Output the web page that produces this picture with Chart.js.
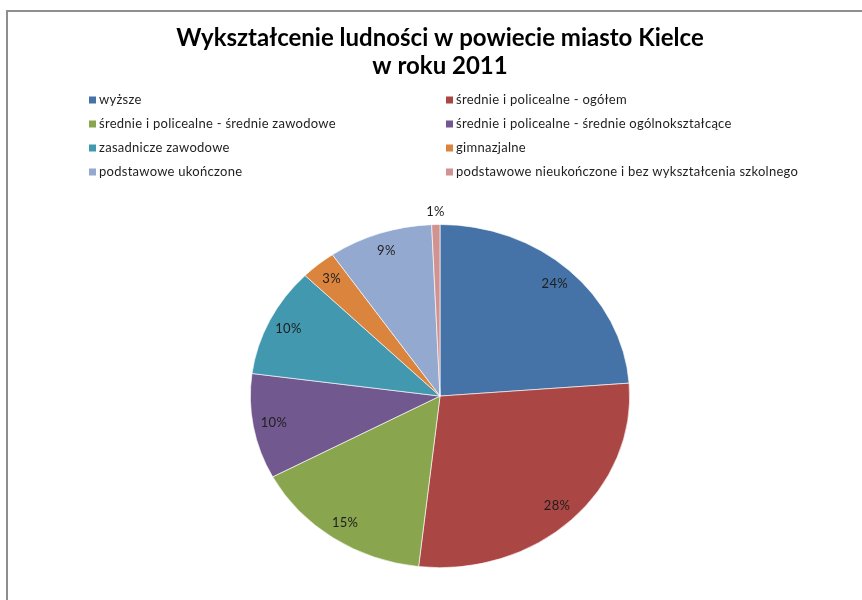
<!DOCTYPE html>
<html>
<head>
<meta charset="utf-8">
<script src="https://cdn.jsdelivr.net/npm/chart.js@4/dist/chart.umd.min.js"></script>
<style>
  html, body { margin: 0; padding: 0; background: #ffffff; }
  #wrap { width: 862px; height: 600px; position: relative; }
</style>
</head>
<body>
<div id="wrap"><canvas id="c" width="862" height="600"></canvas></div>
<script>
const titleLines = ["Wykształcenie ludności w powiecie miasto Kielce", "w roku 2011"];
const categories = [
  "wyższe",
  "średnie i policealne - ogółem",
  "średnie i policealne - średnie zawodowe",
  "średnie i policealne - średnie ogólnokształcące",
  "zasadnicze zawodowe",
  "gimnazjalne",
  "podstawowe ukończone",
  "podstawowe nieukończone i bez wykształcenia szkolnego"
];
const shares = [23.8, 28.0, 15.4, 9.9, 10.3, 3.0, 8.9, 0.7];
const colors = ["#4572A7", "#AA4643", "#89A54E", "#71588F", "#4198AF", "#DB843D", "#93A9CF", "#D19392"];

const SX = 1.105; // horizontal stretch of the pie (elliptical look)

const framePlugin = {
  id: 'frame',
  beforeDraw(chart) {
    const ctx = chart.ctx;
    ctx.save();
    ctx.fillStyle = '#ffffff';
    ctx.fillRect(0, 0, chart.width, chart.height);
    ctx.strokeStyle = '#8e8e8e';
    ctx.lineWidth = 2;
    ctx.beginPath();
    ctx.moveTo(7, chart.height + 5);
    ctx.lineTo(7, 11);
    ctx.lineTo(chart.width + 5, 11);
    ctx.stroke();
    ctx.restore();
  }
};

const stretchPlugin = {
  id: 'stretch',
  beforeDatasetsDraw(chart) {
    const meta = chart.getDatasetMeta(0);
    const a = meta.data[0];
    const ctx = chart.ctx;
    ctx.save();
    ctx.translate(a.x, a.y);
    ctx.scale(SX, 1);
    ctx.translate(-a.x, -a.y);
  },
  afterDatasetsDraw(chart) {
    chart.ctx.restore();
  }
};

const labelPlugin = {
  id: 'pctLabels',
  afterDatasetsDraw(chart) {
    const ctx = chart.ctx;
    const meta = chart.getDatasetMeta(0);
    const data = chart.data.datasets[0].data;
    const total = data.reduce((s, v) => s + v, 0);
    ctx.save();
    ctx.font = '13px Lato, "Open Sans", sans-serif';
    ctx.letterSpacing = '0.3px';
    ctx.fillStyle = '#1e1e1e';
    ctx.textAlign = 'center';
    ctx.textBaseline = 'middle';
    meta.data.forEach((arc, i) => {
      const p = arc.getProps(['x', 'y', 'startAngle', 'endAngle', 'outerRadius'], true);
      const mid = (p.startAngle + p.endAngle) / 2;
      const pct = data[i] / total * 100;
      const f = pct < 2 ? 1.075 : 0.89;
      const x = p.x + Math.cos(mid) * p.outerRadius * f * SX;
      const y = p.y + Math.sin(mid) * p.outerRadius * f;
      ctx.fillText(Math.round(pct) + '%', x, y);
    });
    ctx.restore();
  }
};

const legendPlugin = {
  id: 'gridLegend',
  afterDraw(chart) {
    const ctx = chart.ctx;
    const labels = chart.data.labels;
    const bg = chart.data.datasets[0].backgroundColor;
    const colX = [89, 446];
    const rowY0 = 100, rowStep = 24;
    ctx.save();
    ctx.font = '13px Lato, "Open Sans", sans-serif';
    ctx.letterSpacing = '0.27px';
    ctx.textBaseline = 'middle';
    ctx.textAlign = 'left';
    labels.forEach((lab, i) => {
      const col = i % 2, row = Math.floor(i / 2);
      const x = colX[col], y = rowY0 + row * rowStep;
      ctx.fillStyle = bg[i];
      ctx.fillRect(x, y - 3.5, 7, 7);
      ctx.fillStyle = '#1e1e1e';
      ctx.fillText(lab, x + 10, y);
    });
    ctx.restore();
  }
};

new Chart(document.getElementById('c'), {
  type: 'pie',
  data: {
    labels: categories,
    datasets: [{
      data: shares,
      backgroundColor: colors,
      borderColor: '#ffffff',
      borderWidth: 0.6,
      hoverOffset: 0
    }]
  },
  options: {
    responsive: false,
    animation: false,
    events: [],
    layout: { padding: { top: 0, bottom: 32, left: 18, right: 0 } },
    plugins: {
      legend: { display: false },
      tooltip: { enabled: false },
      title: {
        display: true,
        text: titleLines,
        color: '#000000',
        font: { family: 'Lato, "Open Sans", sans-serif', size: 24, weight: 'bold', lineHeight: 1.17 },
        padding: { top: 24, bottom: 144 }
      }
    }
  },
  plugins: [framePlugin, stretchPlugin, labelPlugin, legendPlugin]
});
</script>
</body>
</html>
